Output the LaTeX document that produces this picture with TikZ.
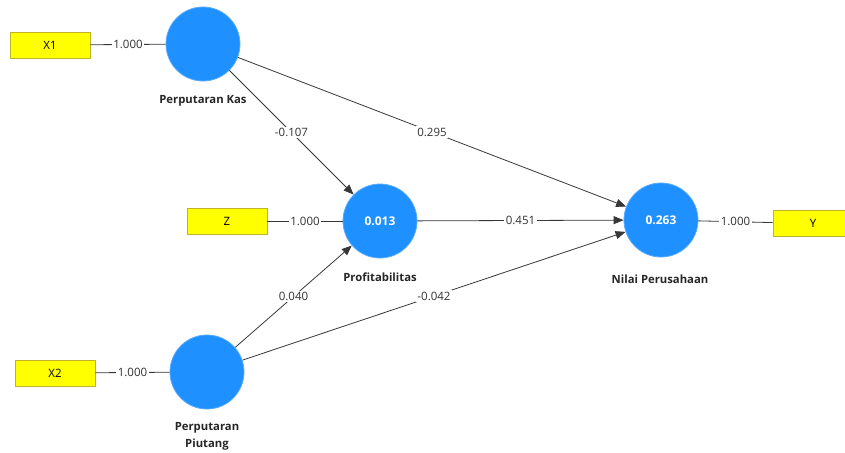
\documentclass[tikz,border=0pt]{standalone}
\usepackage{fontspec}
\setmainfont{Open Sans}
\usetikzlibrary{arrows.meta}
\definecolor{lvblue}{RGB}{30,144,255}
\definecolor{lvborder}{RGB}{90,170,255}
\definecolor{boxyellow}{RGB}{255,255,0}
\definecolor{boxborder}{RGB}{190,180,40}
\definecolor{edgegray}{RGB}{55,55,55}
\tikzset{
  latent/.style={circle, fill=lvblue, draw=lvborder, line width=0.8pt, minimum size=74pt, inner sep=0pt,
    text=white, font=\fontsize{12}{14}\selectfont\bfseries},
  indicator/.style={rectangle, fill=boxyellow, draw=boxborder, line width=0.8pt, minimum width=80pt, minimum height=26pt,
    inner sep=0pt, font=\fontsize{11.5}{13}\selectfont},
  lvname/.style={font=\fontsize{11.3}{13}\selectfont\bfseries, text=black!85, align=center},
  link/.style={draw=edgegray, line width=0.8pt},
  path/.style={link, -{Triangle[length=10pt,width=8pt]}, shorten >=0pt},
  wlabel/.style={fill=white, inner sep=1.5pt, font=\fontsize{11.5}{13}\selectfont, text=black!80, pos=0.5}
}
\begin{document}
\begin{tikzpicture}[x=1pt,y=-1pt]
\useasboundingbox (0,0) rectangle (845,452);
% latent variables
\node[latent] (kas) at (203,44) {};
\node[latent] (prof) at (380,221) {0.013};
\node[latent] (nilai) at (661,220) {0.263};
\node[latent] (piut) at (207,372) {};
% names
\node[lvname] (kasname) at (203,101) {Perputaran Kas};
\node[lvname] (profname) at (380,277) {Profitabilitas};
\node[lvname] (nilainame) at (660,279) {Nilai Perusahaan};
\node[lvname, font=\fontsize{11.3}{17}\selectfont\bfseries] (piutname) at (207,436) {Perputaran\\Piutang};
% indicators
\node[indicator] (x1) at (50,45) {X1};
\node[indicator] (z) at (227,221) {Z};
\node[indicator] (y) at (813,223.5) {Y};
\node[indicator] (x2) at (55,373) {X2};
% outer loadings
\draw[link] (x1) -- node[wlabel] (l1) {1.000} (kas);
\draw[link] (z) -- node[wlabel] (l2) {1.000} (prof);
\draw[link] (nilai) -- node[wlabel] (l3) {1.000} (y);
\draw[link] (x2) -- node[wlabel] (l4) {1.000} (piut);
% structural paths
\draw[path] (kas) -- node[wlabel] (p1) {-0.107} (prof);
\draw[path] (kas) -- node[wlabel] (p2) {0.295} (nilai);
\draw[path] (prof) -- node[wlabel] (p3) {0.451} (nilai);
\draw[path] (piut) -- node[wlabel] (p4) {0.040} (prof);
\draw[path] (piut) -- node[wlabel] (p5) {-0.042} (nilai);
\end{tikzpicture}
\end{document}
